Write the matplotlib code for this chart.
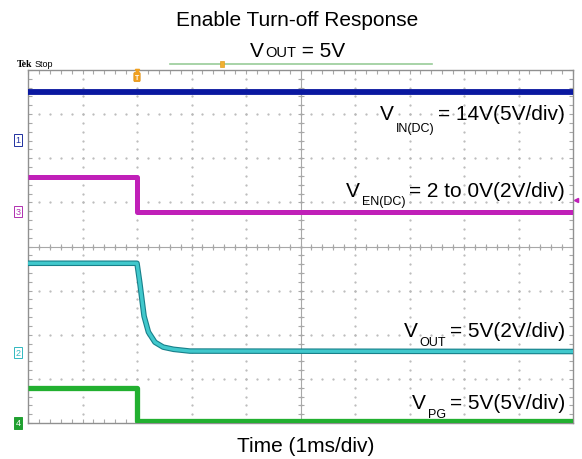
import numpy as np
import matplotlib.pyplot as plt

plt.rcParams['font.family'] = ['Liberation Sans', 'DejaVu Sans']

W, H = 582, 460

# scope traces, read in screen divisions (10 x 8 graticule, 1 ms/div)
vin_t = [0, 10]
vin_y = [7.50, 7.50]

en_t = [0, 2.0, 2.0, 10]
en_y = [5.58, 5.58, 4.79, 4.79]

vout_t = [0, 2.0, 2.05, 2.13, 2.21, 2.33, 2.48, 2.67, 2.97, 10]
vout_y = [3.62, 3.62, 3.19, 2.42, 2.06, 1.83, 1.72, 1.67, 1.63, 1.62]

pg_t = [0, 2.0, 2.0, 10]
pg_y = [0.79, 0.79, 0.05, 0.05]

# channel ground markers (div) and labels
ch_names = ['1', '3', '2', '4']
ch_levels = [6.42, 4.79, 1.60, 0.0]
ch_colors = ['#2030a0', '#b030b0', '#30b8c0', '#20a030']

labels_main = ['= 14V(5V/div)', '= 2 to 0V(2V/div)', '= 5V(2V/div)', '= 5V(5V/div)']
labels_sub = ['IN(DC)', 'EN(DC)', 'OUT', 'PG']
labels_base = [120, 197, 337, 409]
labels_drop = [12, 8, 9, 9]

fig = plt.figure(figsize=(W / 100, H / 100), dpi=100)
ax = fig.add_axes([28 / W, 1 - 424 / H, 545 / W, 353 / H])
ax.set_xlim(0, 10)
ax.set_ylim(0, 8)

# graticule
gcol = '#a8a8a8'
dcol = '#b8b8b8'
for gx in range(1, 10):
    yy = np.arange(0.2, 8, 0.2)
    ax.plot(np.full_like(yy, gx), yy, ls='', marker='.', ms=1.2, color=dcol)
for gy in range(1, 8):
    xx = np.arange(0.2, 10, 0.2)
    ax.plot(xx, np.full_like(xx, gy), ls='', marker='.', ms=1.2, color=dcol)
ax.axhline(4, color=gcol, lw=0.8)
ax.axvline(5, color=gcol, lw=0.8)
tx = np.arange(0.2, 10, 0.2)
ty = np.arange(0.2, 8, 0.2)
ax.plot(tx, np.full_like(tx, 4), ls='', marker='|', ms=4, mew=0.8, color=gcol)
ax.plot(np.full_like(ty, 5), ty, ls='', marker='_', ms=4, mew=0.8, color=gcol)

ax.set_xticks(np.arange(0, 10.01, 1))
ax.set_yticks(np.arange(0, 8.01, 1))
ax.set_xticks(np.arange(0, 10.01, 0.2), minor=True)
ax.set_yticks(np.arange(0, 8.01, 0.2), minor=True)
ax.tick_params(which='both', direction='in', top=True, right=True, color=gcol,
               labelbottom=False, labelleft=False, length=3, width=0.8)
for sp in ax.spines.values():
    sp.set_color('#909090')
    sp.set_linewidth(1.0)

# traces
ax.plot(vin_t, vin_y, color='#0a18a0', lw=4.2, solid_capstyle='butt', zorder=5)
ax.plot(en_t, en_y, color='#c020b8', lw=3.6, solid_capstyle='butt', zorder=5)
ax.plot(vout_t, vout_y, color='#18808a', lw=4.0, solid_capstyle='butt', zorder=5)
ax.plot(vout_t, vout_y, color='#40c8cc', lw=2.4, solid_capstyle='butt', zorder=6)
ax.plot(pg_t, pg_y, color='#22b030', lw=3.8, solid_capstyle='butt', zorder=5)

# channel markers
for name, lvl, col in zip(ch_names, ch_levels, ch_colors):
    fc = col if name == '4' else 'white'
    tc = 'white' if name == '4' else col
    ax.text(-0.14, lvl, name, ha='right', va='center', fontsize=6.5, color=tc,
            bbox=dict(boxstyle='square,pad=0.15', fc=fc, ec=col, lw=0.7), clip_on=False)

# trigger markers
ax.text(2.0, 7.84, 'T', ha='center', va='center', fontsize=5, color='white', weight='bold',
        bbox=dict(boxstyle='round,pad=0.15', fc='#f0a020', ec='#e09010', lw=0.5), zorder=7)
ax.plot([2.0], [7.97], marker='v', ms=3, color='#f0a020', ls='', clip_on=False, zorder=7)
ax.plot([10.06], [5.06], marker='<', ms=3, color='#c020b8', ls='', clip_on=False)

# record-length bar above the screen
fig.add_artist(plt.Line2D([170 / W, 432 / W], [1 - 65 / H, 1 - 65 / H], color='#98cc98', lw=1.2))
fig.text(222 / W, 1 - 65 / H, ' ', fontsize=3, ha='center', va='center',
         bbox=dict(boxstyle='square,pad=0.25', fc='#f0b030', ec='#e0a020', lw=0.5))

fig.text(17 / W, 1 - 67 / H, 'Tek', fontsize=7, weight='bold', family='Liberation Serif',
         ha='left', va='baseline')
fig.text(35 / W, 1 - 67 / H, 'Stop', fontsize=6.5, ha='left', va='baseline')

r = fig.canvas.get_renderer()

# titles
fig.text(297 / W, 1 - 26 / H, 'Enable Turn-off Response', fontsize=15, ha='center', va='baseline')
tv = fig.text(250 / W, 1 - 57 / H, 'V', fontsize=15, ha='left', va='baseline')
x1 = tv.get_window_extent(r).x1
to = fig.text((x1 + 1) / W, 1 - 57 / H, 'OUT', fontsize=10.5, ha='left', va='baseline')
x2 = to.get_window_extent(r).x1
fig.text(x2 / W, 1 - 57 / H, ' = 5V', fontsize=15, ha='left', va='baseline')
fig.text(306 / W, 1 - 452 / H, 'Time (1ms/div)', fontsize=15, ha='center', va='baseline')

# trace labels
for main, sub, base, drop in zip(labels_main, labels_sub, labels_base, labels_drop):
    m = fig.text(565 / W, 1 - base / H, main, fontsize=15, ha='right', va='baseline', zorder=8)
    mx = m.get_window_extent(r).x0
    s = fig.text((mx - 4) / W, 1 - (base + drop) / H, sub, fontsize=9, ha='right', va='baseline', zorder=8)
    sx = s.get_window_extent(r).x0
    fig.text((sx - 2) / W, 1 - base / H, 'V', fontsize=15, ha='right', va='baseline', zorder=8)

fig.savefig('out.png', dpi=100)
